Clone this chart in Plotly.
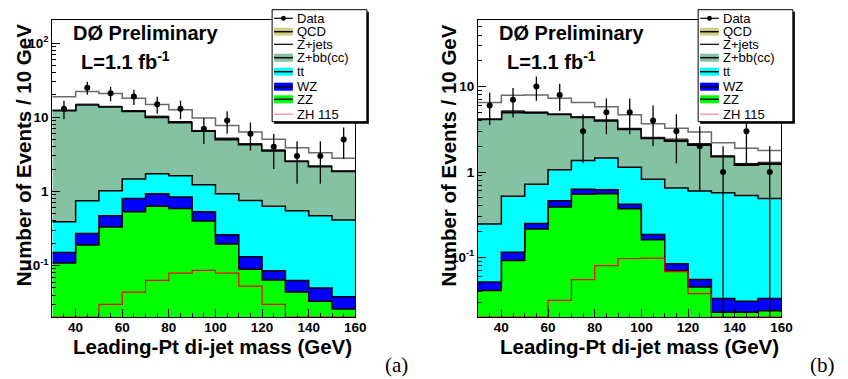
import numpy as np
import plotly.graph_objects as go

W, H = 848, 379

bin_low = [30, 40, 50, 60, 70, 80, 90, 100, 110, 120, 130, 140, 150]
bin_width = 10

# ---- panel (a) ----
a_data  = [13, 25, 21, 19, 15, 13, 7, 9, 6, 4, 3, 3, 5]
a_zz    = [0.108, 0.19, 0.33, 0.53, 0.63, 0.59, 0.40, 0.196, 0.089, 0.064, 0.044, 0.033, 0.026]
a_wz    = [0.042, 0.08, 0.14, 0.27, 0.30, 0.25, 0.13, 0.064, 0.043, 0.021, 0.019, 0.017, 0.012]
a_tt    = [0.24, 0.48, 0.55, 0.67, 0.80, 0.79, 0.70, 0.67, 0.62, 0.545, 0.487, 0.42, 0.372]
a_zbb   = [12.0, 14.05, 12.8, 10.6, 8.3, 6.9, 5.3, 4.1, 3.55, 2.9, 2.0, 1.7, 1.47]
a_qcd   = [0.1, 0.2, 0.2, 0.2, 0.3, 0.2, 0.1, 0.2, 0.1, 0.1, 0.03, 0.04, 0.02]
a_zjets = [6.3, 7.2, 6.9, 5.8, 4.5, 3.9, 3.1, 2.5, 1.9, 1.4, 1.3, 1.1, 0.9]
a_zh    = [0, 0, 0.030, 0.044, 0.063, 0.079, 0.086, 0.079, 0.053, 0.030, 0, 0, 0]

# ---- panel (b) ----
b_data  = [6, 7, 10, 8, 3, 5, 5, 4, 3, 2, 1, 3, 1]
b_zz    = [0.041, 0.092, 0.215, 0.39, 0.55, 0.556, 0.37, 0.161, 0.070, 0.045, 0.0228, 0.0228, 0.0238]
b_wz    = [0.0105, 0.023, 0.035, 0.07, 0.08, 0.064, 0.05, 0.024, 0.014, 0.010, 0.0102, 0.0078, 0.0092]
b_tt    = [0.195, 0.405, 0.47, 0.60, 0.73, 0.84, 0.72, 0.635, 0.566, 0.545, 0.537, 0.499, 0.457]
b_zbb   = [3.91, 4.48, 4.25, 3.69, 3.02, 2.54, 2.04, 1.67, 1.67, 1.47, 0.95, 0.68, 0.75]
b_qcd   = [0.04, 0.2, 0.08, 0.05, 0.07, 0.08, 0.07, 0.06, 0.11, 0.08, 0.03, 0.05, 0.06]
b_zjets = [2.3, 2.7, 2.95, 2.5, 2.05, 1.72, 1.42, 1.12, 0.83, 0.8, 0.65, 0.64, 0.49]
b_zh    = [0, 0, 0, 0.0314, 0.055, 0.080, 0.097, 0.098, 0.068, 0.0376, 0, 0, 0]

x_tick_vals = [40, 60, 80, 100, 120, 140, 160]
a_ytick_vals = [0.1, 1, 10, 100]
a_ytick_text = ["10<sup>-1</sup>", "1", "10", "10<sup>2</sup>"]
b_ytick_vals = [0.1, 1, 10]
b_ytick_text = ["10<sup>-1</sup>", "1", "10"]

a_yrange = [-1.693, 2.31]
b_yrange = [-1.698, 1.78]

ZZ_C, WZ_C, TT_C, ZBB_C, QCD_C = "#00ff00", "#0000ff", "#00ffff", "#85c2a3", "#d4cf87"

edges = bin_low + [bin_low[-1] + bin_width]
centers = [b + bin_width / 2 for b in bin_low]


def step(v):
    v = list(v)
    return v + [v[-1]]


fig = go.Figure()


def add_panel(xa, ya, data, zz, wz, tt, zbb, qcd, zjets, zh, yrange):
    floor = 10 ** yrange[0]
    comps = [zz, wz, tt, zbb, qcd, zjets]
    cum = np.cumsum(np.array(comps, dtype=float), axis=0)
    fig.add_trace(go.Scatter(x=edges, y=step([1e-4] * len(bin_low)), mode="lines",
                             line=dict(width=0, shape="hv"), xaxis=xa, yaxis=ya,
                             showlegend=False, hoverinfo="skip"))
    styles = [
        (ZZ_C, "black", 1.5),
        (WZ_C, "black", 1.5),
        (TT_C, "black", 1.5),
        (ZBB_C, "black", 2.2),
        (QCD_C, "black", 1.0),
        ("white", "#6a6a6a", 1.5),
    ]
    for c, (fc, lc, lw) in zip(cum, styles):
        fig.add_trace(go.Scatter(x=edges, y=step(c), mode="lines",
                                 line=dict(color=lc, width=lw, shape="hv"),
                                 fill="tonexty", fillcolor=fc, xaxis=xa, yaxis=ya,
                                 showlegend=False))
    zh_plot = [v if v > floor else floor for v in zh]
    fig.add_trace(go.Scatter(x=edges, y=step(zh_plot), mode="lines",
                             line=dict(color="#ff0000", width=1.2, shape="hv"),
                             xaxis=xa, yaxis=ya, showlegend=False))
    err = list(np.sqrt(np.array(data, dtype=float)))
    fig.add_trace(go.Scatter(x=centers, y=data, mode="markers",
                             marker=dict(color="black", size=6),
                             error_y=dict(type="data", array=err, arrayminus=err,
                                          color="black", thickness=1.3, width=0),
                             xaxis=xa, yaxis=ya, showlegend=False))


add_panel("x", "y", a_data, a_zz, a_wz, a_tt, a_zbb, a_qcd, a_zjets, a_zh, a_yrange)
add_panel("x2", "y2", b_data, b_zz, b_wz, b_tt, b_zbb, b_qcd, b_zjets, b_zh, b_yrange)


def px(x):
    return x / W


def py(y):
    return 1 - y / H


tickfont = dict(family="Liberation Sans", size=13.5, color="black", weight="bold")


def minor_log(lo, hi):
    out = []
    for e in range(int(np.floor(lo)) - 1, int(np.ceil(hi)) + 1):
        for m in range(2, 10):
            out.append(m * 10.0 ** e)
    return out


def xaxis_cfg(domain):
    return dict(domain=domain, range=[30, 160], tickvals=x_tick_vals,
                ticks="inside", ticklen=8, tickcolor="black", tickwidth=1,
                minor=dict(ticks="inside", ticklen=4, tickcolor="black",
                           tickvals=list(range(30, 161, 5)), showgrid=False),
                showgrid=False, zeroline=False, showline=True, linecolor="black",
                linewidth=1, mirror=True, tickfont=tickfont, ticklabelstandoff=-2)


def yaxis_cfg(domain, yr, tv, tt):
    return dict(domain=domain, type="log", range=yr, tickvals=tv, ticktext=tt,
                ticks="inside", ticklen=8, tickcolor="black",
                minor=dict(ticks="inside", ticklen=4, tickcolor="black",
                           tickvals=minor_log(*yr), showgrid=False),
                showgrid=False, zeroline=False, showline=True, linecolor="black",
                linewidth=1, mirror=True, tickfont=tickfont)


ydom = [py(317), py(20)]
fig.update_layout(
    width=W, height=H, margin=dict(l=0, r=0, t=0, b=0),
    paper_bgcolor="white", plot_bgcolor="white", showlegend=False,
    xaxis=xaxis_cfg([px(53), px(360)]),
    yaxis=yaxis_cfg(ydom, a_yrange, a_ytick_vals, a_ytick_text),
    xaxis2=xaxis_cfg([px(484.3), px(791.7)]),
    yaxis2=yaxis_cfg(ydom, b_yrange, b_ytick_vals, b_ytick_text),
)
fig.update_layout(yaxis2=dict(anchor="x2"), xaxis2=dict(anchor="y2"))

big = dict(family="Liberation Sans", size=20, color="black", weight="bold")
title_font = dict(family="Liberation Sans", size=20.5, color="black", weight="bold")
annotations = []
shapes = []

panels = [
    dict(dx=72, lx=80, ytx=24, xend=359, lab_x=402, lab="(a)"),
    dict(dx=503.3, lx=511.7, ytx=454, xend=791, lab_x=833, lab="(b)"),
]
for p in panels:
    annotations.append(dict(text="DØ Preliminary", x=px(p["dx"]), y=py(33),
                            xref="paper", yref="paper", xanchor="left", yanchor="middle",
                            showarrow=False, font=big))
    annotations.append(dict(text="L=1.1 fb<sup>-1</sup>", x=px(p["lx"]), y=py(61),
                            xref="paper", yref="paper", xanchor="left", yanchor="middle",
                            showarrow=False, font=big))
    annotations.append(dict(text="Number of Events / 10 GeV", x=px(p["ytx"]), y=py(155.5),
                            xref="paper", yref="paper", xanchor="center", yanchor="middle",
                            textangle=-90, showarrow=False, font=title_font))
    annotations.append(dict(text="Leading-Pt di-jet mass (GeV)", x=px(p["xend"]), y=py(346),
                            xref="paper", yref="paper", xanchor="right", yanchor="middle",
                            showarrow=False, font=title_font))
    annotations.append(dict(text=p["lab"], x=px(p["lab_x"]), y=py(365), xref="paper", yref="paper",
                            xanchor="center", yanchor="middle", showarrow=False,
                            font=dict(family="Liberation Serif", size=21, color="black")))

# legends
leg_names = ["Data", "QCD", "Z+jets", "Z+bb(cc)", "tt", "WZ", "ZZ", "ZH 115"]
leg_kind = ["marker", "box", "line", "box", "box", "box", "box", "line"]
leg_color = ["black", QCD_C, "black", ZBB_C, TT_C, WZ_C, ZZ_C, "#ff8a8a"]
leg_dy = [8.6, 22, 34.6, 48, 62, 77, 89.6, 104.5]

for L in [275.7, 707.3]:
    T, R, B = 9.7, L + 96, 121.7
    shapes.append(dict(type="rect", xref="paper", yref="paper", x0=px(L + 2), x1=px(R + 2),
                       y0=py(B + 2), y1=py(T + 2), fillcolor="black", line=dict(width=0), layer="above"))
    shapes.append(dict(type="rect", xref="paper", yref="paper", x0=px(L), x1=px(R),
                       y0=py(B), y1=py(T), fillcolor="white", line=dict(color="black", width=1),
                       layer="above"))
    for name, kind, col, dy in zip(leg_names, leg_kind, leg_color, leg_dy):
        c = T + dy
        sx0, sx1 = L + 2, L + 21
        if kind == "box":
            shapes.append(dict(type="rect", xref="paper", yref="paper", x0=px(sx0), x1=px(sx1),
                               y0=py(c + 4), y1=py(c - 4), fillcolor=col, line=dict(width=0),
                               layer="above"))
            shapes.append(dict(type="line", xref="paper", yref="paper", x0=px(sx0), x1=px(sx1),
                               y0=py(c), y1=py(c), line=dict(color="black", width=1.5), layer="above"))
        else:
            shapes.append(dict(type="line", xref="paper", yref="paper", x0=px(sx0), x1=px(sx1),
                               y0=py(c), y1=py(c), line=dict(color=col, width=1.2), layer="above"))
            if kind == "marker":
                xc = (sx0 + sx1) / 2
                shapes.append(dict(type="circle", xref="paper", yref="paper", x0=px(xc - 2.5),
                                   x1=px(xc + 2.5), y0=py(c + 2.5), y1=py(c - 2.5),
                                   fillcolor="black", line=dict(width=0), layer="above"))
        annotations.append(dict(text=name, x=px(L + 23), y=py(c), xref="paper", yref="paper",
                                xanchor="left", yanchor="middle", showarrow=False,
                                font=dict(family="Liberation Sans", size=13, color="black")))

fig.update_layout(annotations=annotations, shapes=shapes)
fig.write_html("out.html", config={"displayModeBar": False},
               post_script="document.body.style.margin='0';document.body.style.padding='0';")
